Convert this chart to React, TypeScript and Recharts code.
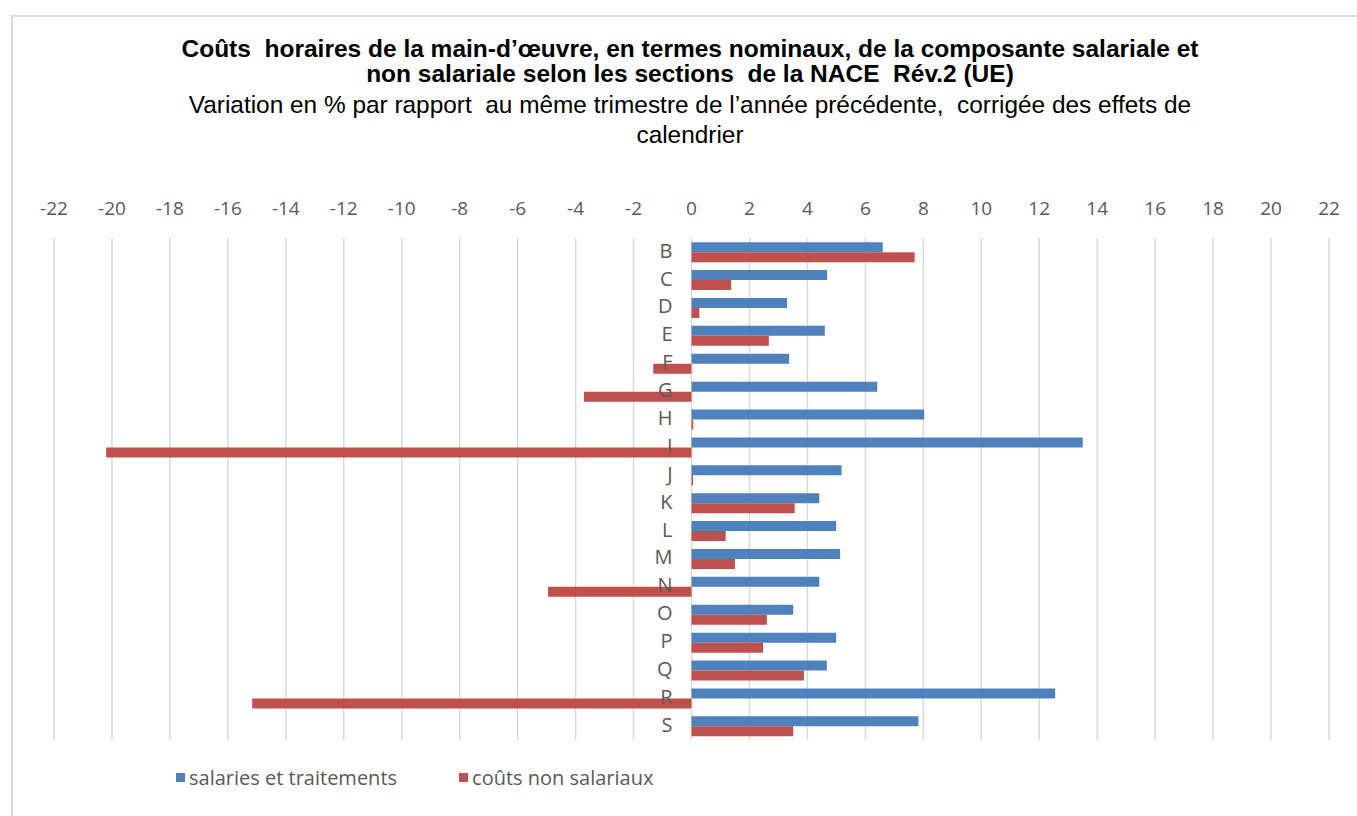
import React from 'react';
import { BarChart, Bar, XAxis, YAxis, CartesianGrid, LabelList } from 'recharts';

const categories = ['B', 'C', 'D', 'E', 'F', 'G', 'H', 'I', 'J', 'K', 'L', 'M', 'N', 'O', 'P', 'Q', 'R', 'S'];
const salaires = [6.6, 4.68, 3.3, 4.6, 3.37, 6.41, 8.03, 13.5, 5.18, 4.41, 4.99, 5.13, 4.41, 3.51, 4.99, 4.67, 12.55, 7.83];
const nonSalariaux = [7.7, 1.37, 0.27, 2.67, -1.32, -3.71, 0.06, -20.2, 0.05, 3.56, 1.18, 1.5, -4.95, 2.6, 2.47, 3.88, -15.16, 3.51];
const xTicks = [-22, -20, -18, -16, -14, -12, -10, -8, -6, -4, -2, 0, 2, 4, 6, 8, 10, 12, 14, 16, 18, 20, 22];

const seriesNames = ['salaries et traitements', 'coûts non salariaux'];
const colors = ['#4f81bd', '#c0504d'];

const data = categories.map((name, i) => ({ name, sal: salaires[i], nonsal: nonSalariaux[i] }));

const TEXT_GRAY = '#595959';
const FONT = '"Open Sans", sans-serif';

const XTick = (props: any) => {
  const { x, y, payload } = props;
  return (
    <text x={x} y={y} textAnchor="middle" dominantBaseline="central" fill={TEXT_GRAY} fontFamily={FONT} fontSize={19}>
      {payload.value}
    </text>
  );
};

const CatLabel = (props: any) => {
  const { x, y, height, value } = props;
  return (
    <text x={x - 19} y={y + height - 2} textAnchor="end" dominantBaseline="central" fill={TEXT_GRAY} fontFamily={FONT} fontSize={20}>
      {value}
    </text>
  );
};

export default function App() {
  return (
    <div style={{ position: 'absolute', left: 0, top: 0, width: 1357, height: 816, background: '#fff', overflow: 'hidden' }}>
      <div style={{ position: 'absolute', left: 11, top: 15, width: 1357, height: 816, borderLeft: '2px solid #d9d9d9', borderTop: '2px solid #d9d9d9' }} />
      <div style={{ position: 'absolute', left: 0, top: 36, width: 1380, textAlign: 'center', fontFamily: '"Liberation Sans", Arial, sans-serif', color: '#000', whiteSpace: 'pre' }}>
        <div style={{ fontWeight: 'bold', fontSize: 24.5, lineHeight: '25px' }}>
          {'Coûts  horaires de la main-d’œuvre, en termes nominaux, de la composante salariale et'}
        </div>
        <div style={{ fontWeight: 'bold', fontSize: 24.5, lineHeight: '25px' }}>
          {'non salariale selon les sections  de la NACE  Rév.2 (UE)'}
        </div>
        <div style={{ fontSize: 24.4, lineHeight: '30px', marginTop: 4 }}>
          {'Variation en % par rapport  au même trimestre de l’année précédente,  corrigée des effets de'}
        </div>
        <div style={{ fontSize: 24.4, lineHeight: '30px' }}>calendrier</div>
      </div>
      <div style={{ position: 'absolute', left: 0, top: 0 }}>
        <BarChart
          width={1357}
          height={816}
          data={data}
          layout="vertical"
          margin={{ top: 208, right: 28, bottom: 76, left: 54 }}
          barCategoryGap="15%"
          barGap={0}
        >
          <CartesianGrid horizontal={false} stroke="#d9d9d9" strokeWidth={1.5} />
          <XAxis
            type="number"
            orientation="top"
            domain={[-22, 22]}
            ticks={xTicks}
            axisLine={false}
            tickLine={false}
            tickSize={0}
            tickMargin={30}
            height={30}
            interval={0}
            tick={<XTick />}
          />
          <YAxis type="category" dataKey="name" hide />
          <Bar dataKey="sal" name={seriesNames[0]} fill={colors[0]} isAnimationActive={false}>
            <LabelList dataKey="name" content={<CatLabel />} />
          </Bar>
          <Bar dataKey="nonsal" name={seriesNames[1]} fill={colors[1]} isAnimationActive={false} />
        </BarChart>
      </div>
      <div style={{ position: 'absolute', left: 176, top: 764, display: 'flex', alignItems: 'center', fontFamily: FONT, fontSize: 20, color: TEXT_GRAY }}>
        <span style={{ display: 'inline-block', width: 9, height: 9, background: colors[0], marginRight: 4 }} />
        <span>{seriesNames[0]}</span>
        <span style={{ display: 'inline-block', width: 9, height: 9, background: colors[1], marginLeft: 62, marginRight: 4 }} />
        <span>{seriesNames[1]}</span>
      </div>
    </div>
  );
}
